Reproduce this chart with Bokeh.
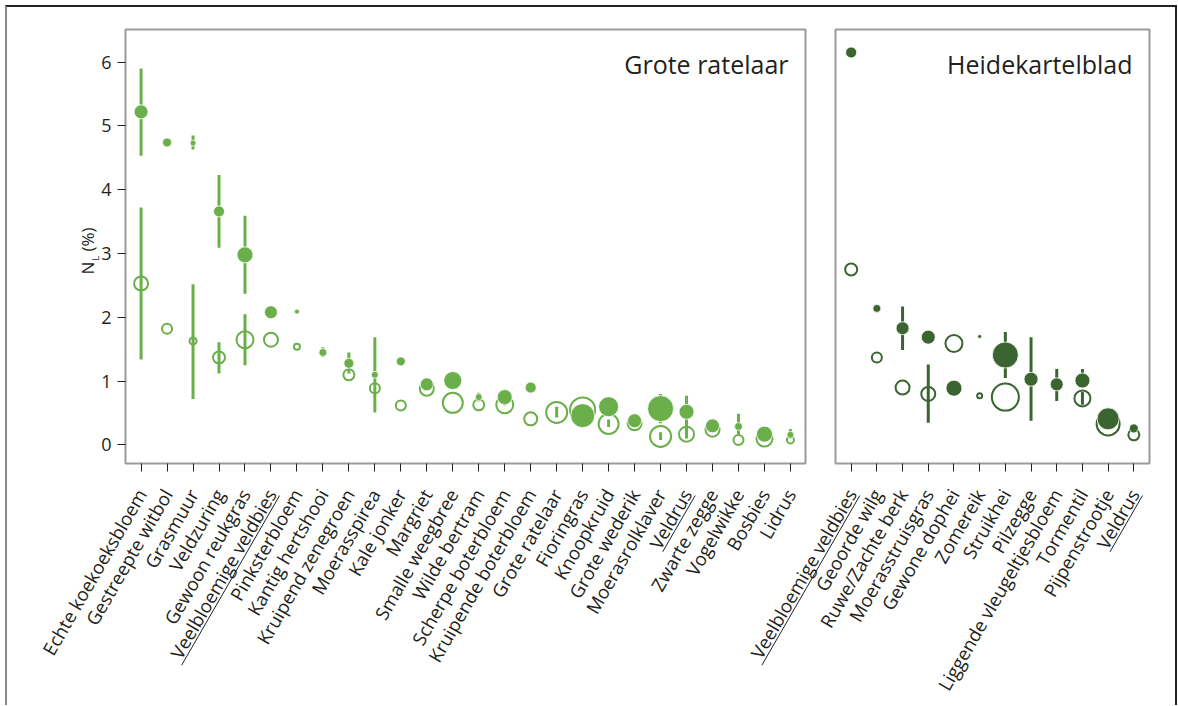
import math
from bokeh.plotting import figure
from bokeh.models import Range1d, FixedTicker, Label
from bokeh.layouts import row, column
from bokeh.embed import file_html
from bokeh.resources import INLINE
from bokeh.core.properties import value

nan = float("nan")

# ---------------- data: Grote ratelaar (left panel) ----------------
gr_species = ["Echte koekoeksbloem", "Gestreepte witbol", "Grasmuur", "Veldzuring",
              "Gewoon reukgras", "Veelbloemige veldbies", "Pinksterbloem", "Kantig hertshooi",
              "Kruipend zenegroen", "Moerasspirea", "Kale jonker", "Margriet",
              "Smalle weegbree", "Wilde bertram", "Scherpe boterbloem", "Kruipende boterbloem",
              "Grote ratelaar", "Fioringras", "Knoopkruid", "Grote wederik",
              "Moerasrolklaver", "Veldrus", "Zwarte zegge", "Vogelwikke", "Bosbies", "Lidrus"]
gr_filled = [5.22, 4.74, 4.73, 3.66, 2.98, 2.08, 2.09, 1.45, 1.28, 1.10, 1.31, 0.95, 1.01,
             0.75, 0.75, 0.90, nan, 0.46, 0.60, 0.38, 0.57, 0.52, 0.30, 0.29, 0.17, 0.16]
gr_filled_w = [14, 9, 6, 11, 16, 13, 5, 8, 10, 7, 9, 13, 18, 7, 15, 11, nan, 24, 20, 14,
               26, 15, 14, 8, 16, 7]
gr_filled_lo = [4.53, nan, 4.63, 3.09, 2.37, nan, nan, 1.38, 1.12, 0.51, nan, nan, nan,
                0.68, 0.62, nan, nan, nan, nan, nan, 0.34, 0.20, nan, 0.17, nan, 0.10]
gr_filled_hi = [5.90, nan, 4.85, 4.23, 3.59, nan, nan, 1.53, 1.45, 1.69, nan, nan, nan,
                0.82, 0.86, nan, nan, nan, nan, nan, 0.80, 0.77, nan, 0.49, nan, 0.25]
gr_open = [2.53, 1.82, 1.63, 1.37, 1.65, 1.65, 1.54, nan, 1.10, 0.89, 0.62, 0.88, 0.66,
           0.63, 0.63, 0.41, 0.51, 0.55, 0.33, 0.34, 0.135, 0.17, 0.24, 0.08, 0.10, 0.08]
gr_open_w = [14, 10, 7, 12, 17, 14, 6, nan, 11, 10, 10, 14, 20, 11, 17, 13, 21, 25, 20, 14,
             21, 15, 14, 10, 16, 7]
gr_open_lo = [1.34, nan, 0.72, 1.12, 1.25, nan, nan, nan, nan, nan, nan, nan, nan,
              nan, nan, nan, 0.43, nan, 0.28, nan, 0.08, 0.10, nan, nan, nan, nan]
gr_open_hi = [3.72, nan, 2.52, 1.61, 2.05, nan, nan, nan, nan, nan, nan, nan, nan,
              nan, nan, nan, 0.60, nan, 0.40, nan, 0.20, 0.25, nan, nan, nan, nan]

# ---------------- data: Heidekartelblad (right panel) ----------------
hk_species = ["Veelbloemige veldbies", "Geoorde wilg", "Ruwe/Zachte berk", "Moerasstruisgras",
              "Gewone dophei", "Zomereik", "Struikhei", "Pilzegge",
              "Liggende vleugeltjesbloem", "Tormentil", "Pijpenstrootje", "Veldrus"]
hk_filled = [6.15, 2.14, 1.83, 1.69, 0.89, 1.70, 1.41, 1.03, 0.95, 1.01, 0.41, 0.26]
hk_filled_w = [11, 8, 13, 14, 16, 4, 26, 14, 13, 15, 22, 9]
hk_filled_lo = [nan, nan, 1.49, nan, nan, nan, 1.05, 0.38, 0.69, 0.90, nan, 0.20]
hk_filled_hi = [nan, nan, 2.17, nan, nan, nan, 1.77, 1.69, 1.19, 1.19, nan, 0.32]
hk_open = [2.75, 1.37, 0.90, 0.80, 1.59, 0.77, 0.75, nan, nan, 0.73, 0.33, 0.16]
hk_open_w = [12, 10, 14, 14, 17, 5, 27, nan, nan, 16, 23, 11]
hk_open_lo = [nan, nan, nan, 0.35, nan, nan, nan, nan, nan, 0.63, nan, nan]
hk_open_hi = [nan, nan, nan, 1.26, nan, nan, nan, nan, nan, 0.83, nan, nan]

underlined = ["Veelbloemige veldbies", "Veldrus"]
y_ticks = [0, 1, 2, 3, 4, 5, 6]

# ---------------- styling / layout ----------------
GR_COLOR = "#6aaf4a"
HK_COLOR = "#3a6430"
TEXT = "#231f20"
FRAME = "#9b9b9b"
FONT = "Open Sans"
LABEL_PX = 18.5
STANDOFF = 19
TICK_OUT = 8
Y0, Y1 = -0.29, 6.51
FRAME_H = 434
ORIGIN = 7                      # page position of the content (after outer border)
H = 698
MB_TOP = 22
MB_BOTTOM = H - MB_TOP - FRAME_H
P1_W, P1_MBL, P1_MBR = 813, 118, 15
P2_SHIFT, P2_W, P2_MBL, P2_MBR = 110, 465, 125, 26
X1_RANGE = (-0.6, 25.58)
X2_RANGE = (-0.61, 11.61)


def ok(v):
    return not (isinstance(v, float) and math.isnan(v))


def make_panel(species, filled, filled_w, flo, fhi, opn, open_w, olo, ohi, color,
               width, mb_left, mb_right, xr, title, show_y):
    x0, x1 = xr
    p = figure(width=width, height=H, x_range=Range1d(x0, x1), y_range=Range1d(Y0, Y1),
               output_backend="svg", toolbar_location=None,
               y_axis_location="left" if show_y else None,
               min_border_left=mb_left, min_border_right=mb_right,
               min_border_top=MB_TOP, min_border_bottom=MB_BOTTOM)
    p.xgrid.visible = False
    p.ygrid.visible = False
    p.outline_line_color = FRAME
    p.outline_line_width = 2
    p.background_fill_color = "white"
    p.border_fill_color = None

    n = len(species)
    xa = p.xaxis[0]
    xa.ticker = FixedTicker(ticks=list(range(n)))
    xa.major_label_overrides = {i: s for i, s in enumerate(species)}
    xa.major_label_orientation = math.pi / 3
    xa.major_label_text_font = FONT
    xa.major_label_text_font_size = f"{LABEL_PX}px"
    xa.major_label_text_color = TEXT
    xa.major_label_standoff = STANDOFF
    xa.major_tick_out = TICK_OUT
    xa.major_tick_in = 0
    xa.minor_tick_out = 0
    xa.minor_tick_in = 0
    xa.major_tick_line_color = TEXT
    xa.axis_line_color = None

    if show_y:
        ya = p.yaxis[0]
        ya.ticker = FixedTicker(ticks=y_ticks)
        ya.major_label_text_font = FONT
        ya.major_label_text_font_size = "18px"
        ya.major_label_text_color = TEXT
        ya.major_label_standoff = 6
        ya.major_tick_out = 8
        ya.major_tick_in = 0
        ya.minor_tick_out = 0
        ya.minor_tick_in = 0
        ya.major_tick_line_color = TEXT
        ya.axis_line_color = None

    ox = [i for i in range(n) if ok(opn[i])]
    p.scatter(ox, [opn[i] for i in ox], size=[open_w[i] for i in ox],
              marker="circle", fill_color=None, line_color=color, line_width=2)
    ex, elo, ehi = [], [], []
    for i in range(n):
        if ok(flo[i]):
            ex.append(i); elo.append(flo[i]); ehi.append(fhi[i])
        if ok(olo[i]):
            ex.append(i); elo.append(olo[i]); ehi.append(ohi[i])
    p.segment(x0=ex, y0=elo, x1=ex, y1=ehi, line_color=color, line_width=3)
    fx = [i for i in range(n) if ok(filled[i])]
    p.scatter(fx, [filled[i] for i in fx], size=[filled_w[i] for i in fx],
              marker="circle", fill_color=color, line_color="white", line_width=0.8)

    frame_w = width - mb_left - mb_right
    ux = frame_w / (x1 - x0)
    uy = FRAME_H / (Y1 - Y0)
    p.add_layout(Label(x=x1 - 17 / ux, y=Y1 - 34 / uy, text=title, text_align="right",
                       text_baseline="alphabetic", text_font=FONT, text_font_size="25px",
                       text_color=TEXT))
    return p, ux


p1, ux1 = make_panel(gr_species, gr_filled, gr_filled_w, gr_filled_lo, gr_filled_hi,
                     gr_open, gr_open_w, gr_open_lo, gr_open_hi, GR_COLOR,
                     P1_W, P1_MBL, P1_MBR, X1_RANGE, "Grote ratelaar", True)
p2, ux2 = make_panel(hk_species, hk_filled, hk_filled_w, hk_filled_lo, hk_filled_hi,
                     hk_open, hk_open_w, hk_open_lo, hk_open_hi, HK_COLOR,
                     P2_W, P2_MBL, P2_MBR, X2_RANGE, "Heidekartelblad", False)
p2.styles = {"margin-left": f"-{P2_SHIFT}px"}

# ---------- transparent overlay in page pixels: axis title and underlines ----------
TOTAL_W = P1_W + P2_W - P2_SHIFT
p3 = figure(width=TOTAL_W, height=H, x_range=Range1d(ORIGIN, ORIGIN + TOTAL_W),
            y_range=Range1d(0, H), output_backend="svg",
            toolbar_location=None, x_axis_location=None, y_axis_location=None,
            min_border=0, min_border_left=0, min_border_right=0, min_border_top=0,
            min_border_bottom=0)
p3.xgrid.visible = False
p3.ygrid.visible = False
p3.outline_line_color = None
p3.background_fill_color = None
p3.border_fill_color = None
p3.styles = {"margin-top": f"-{H}px"}


def py(page_y):
    """page pixel row -> overlay y coordinate (upwards)"""
    return ORIGIN + H - page_y


frame_bottom = ORIGIN + MB_TOP + FRAME_H
p1_left = ORIGIN + P1_MBL
p2_left = ORIGIN + P1_W - P2_SHIFT + P2_MBL

# y axis title N_L (%)
p3.text(x=[87], y=[py(274)], text=["N"], angle=math.pi / 2, text_align="left",
        text_baseline="alphabetic", text_font=value(FONT), text_font_size="17px",
        text_color=TEXT)
p3.text(x=[95], y=[py(260)], text=["L"], angle=math.pi / 2, text_align="left",
        text_baseline="alphabetic", text_font=value(FONT), text_font_size="9px",
        text_color=TEXT)
p3.text(x=[87], y=[py(251)], text=["(%)"], angle=math.pi / 2, text_align="left",
        text_baseline="alphabetic", text_font=value(FONT), text_font_size="17px",
        text_color=TEXT)

# underlines below highlighted species labels
D = 10
ux0, uy0, ux1_, uy1_ = [], [], [], []
for species, left, xr, ux in [(gr_species, p1_left, X1_RANGE, ux1),
                              (hk_species, p2_left, X2_RANGE, ux2)]:
    for i, s in enumerate(species):
        if s in underlined:
            L = 196 if s.startswith("Veel") else 65
            tx = left + (i - xr[0]) * ux
            ax = tx + D * math.sqrt(3) / 2
            ay = frame_bottom + TICK_OUT + STANDOFF + D * 0.5
            bx = ax - L * 0.5
            by = ay + L * math.sqrt(3) / 2
            ux0.append(ax); uy0.append(py(ay))
            ux1_.append(bx); uy1_.append(py(by))
p3.segment(x0=ux0, y0=uy0, x1=ux1_, y1=uy1_, line_color=TEXT, line_width=1)

layout = column(row(p1, p2), p3,
                styles={"margin-left": "5px", "margin-top": "5px",
                        "border-left": "2px solid #8a8a8a",
                        "border-top": "2px solid #222222",
                        "border-right": "2px solid #222222"})

open("out.html", "w").write(file_html(layout, INLINE))
